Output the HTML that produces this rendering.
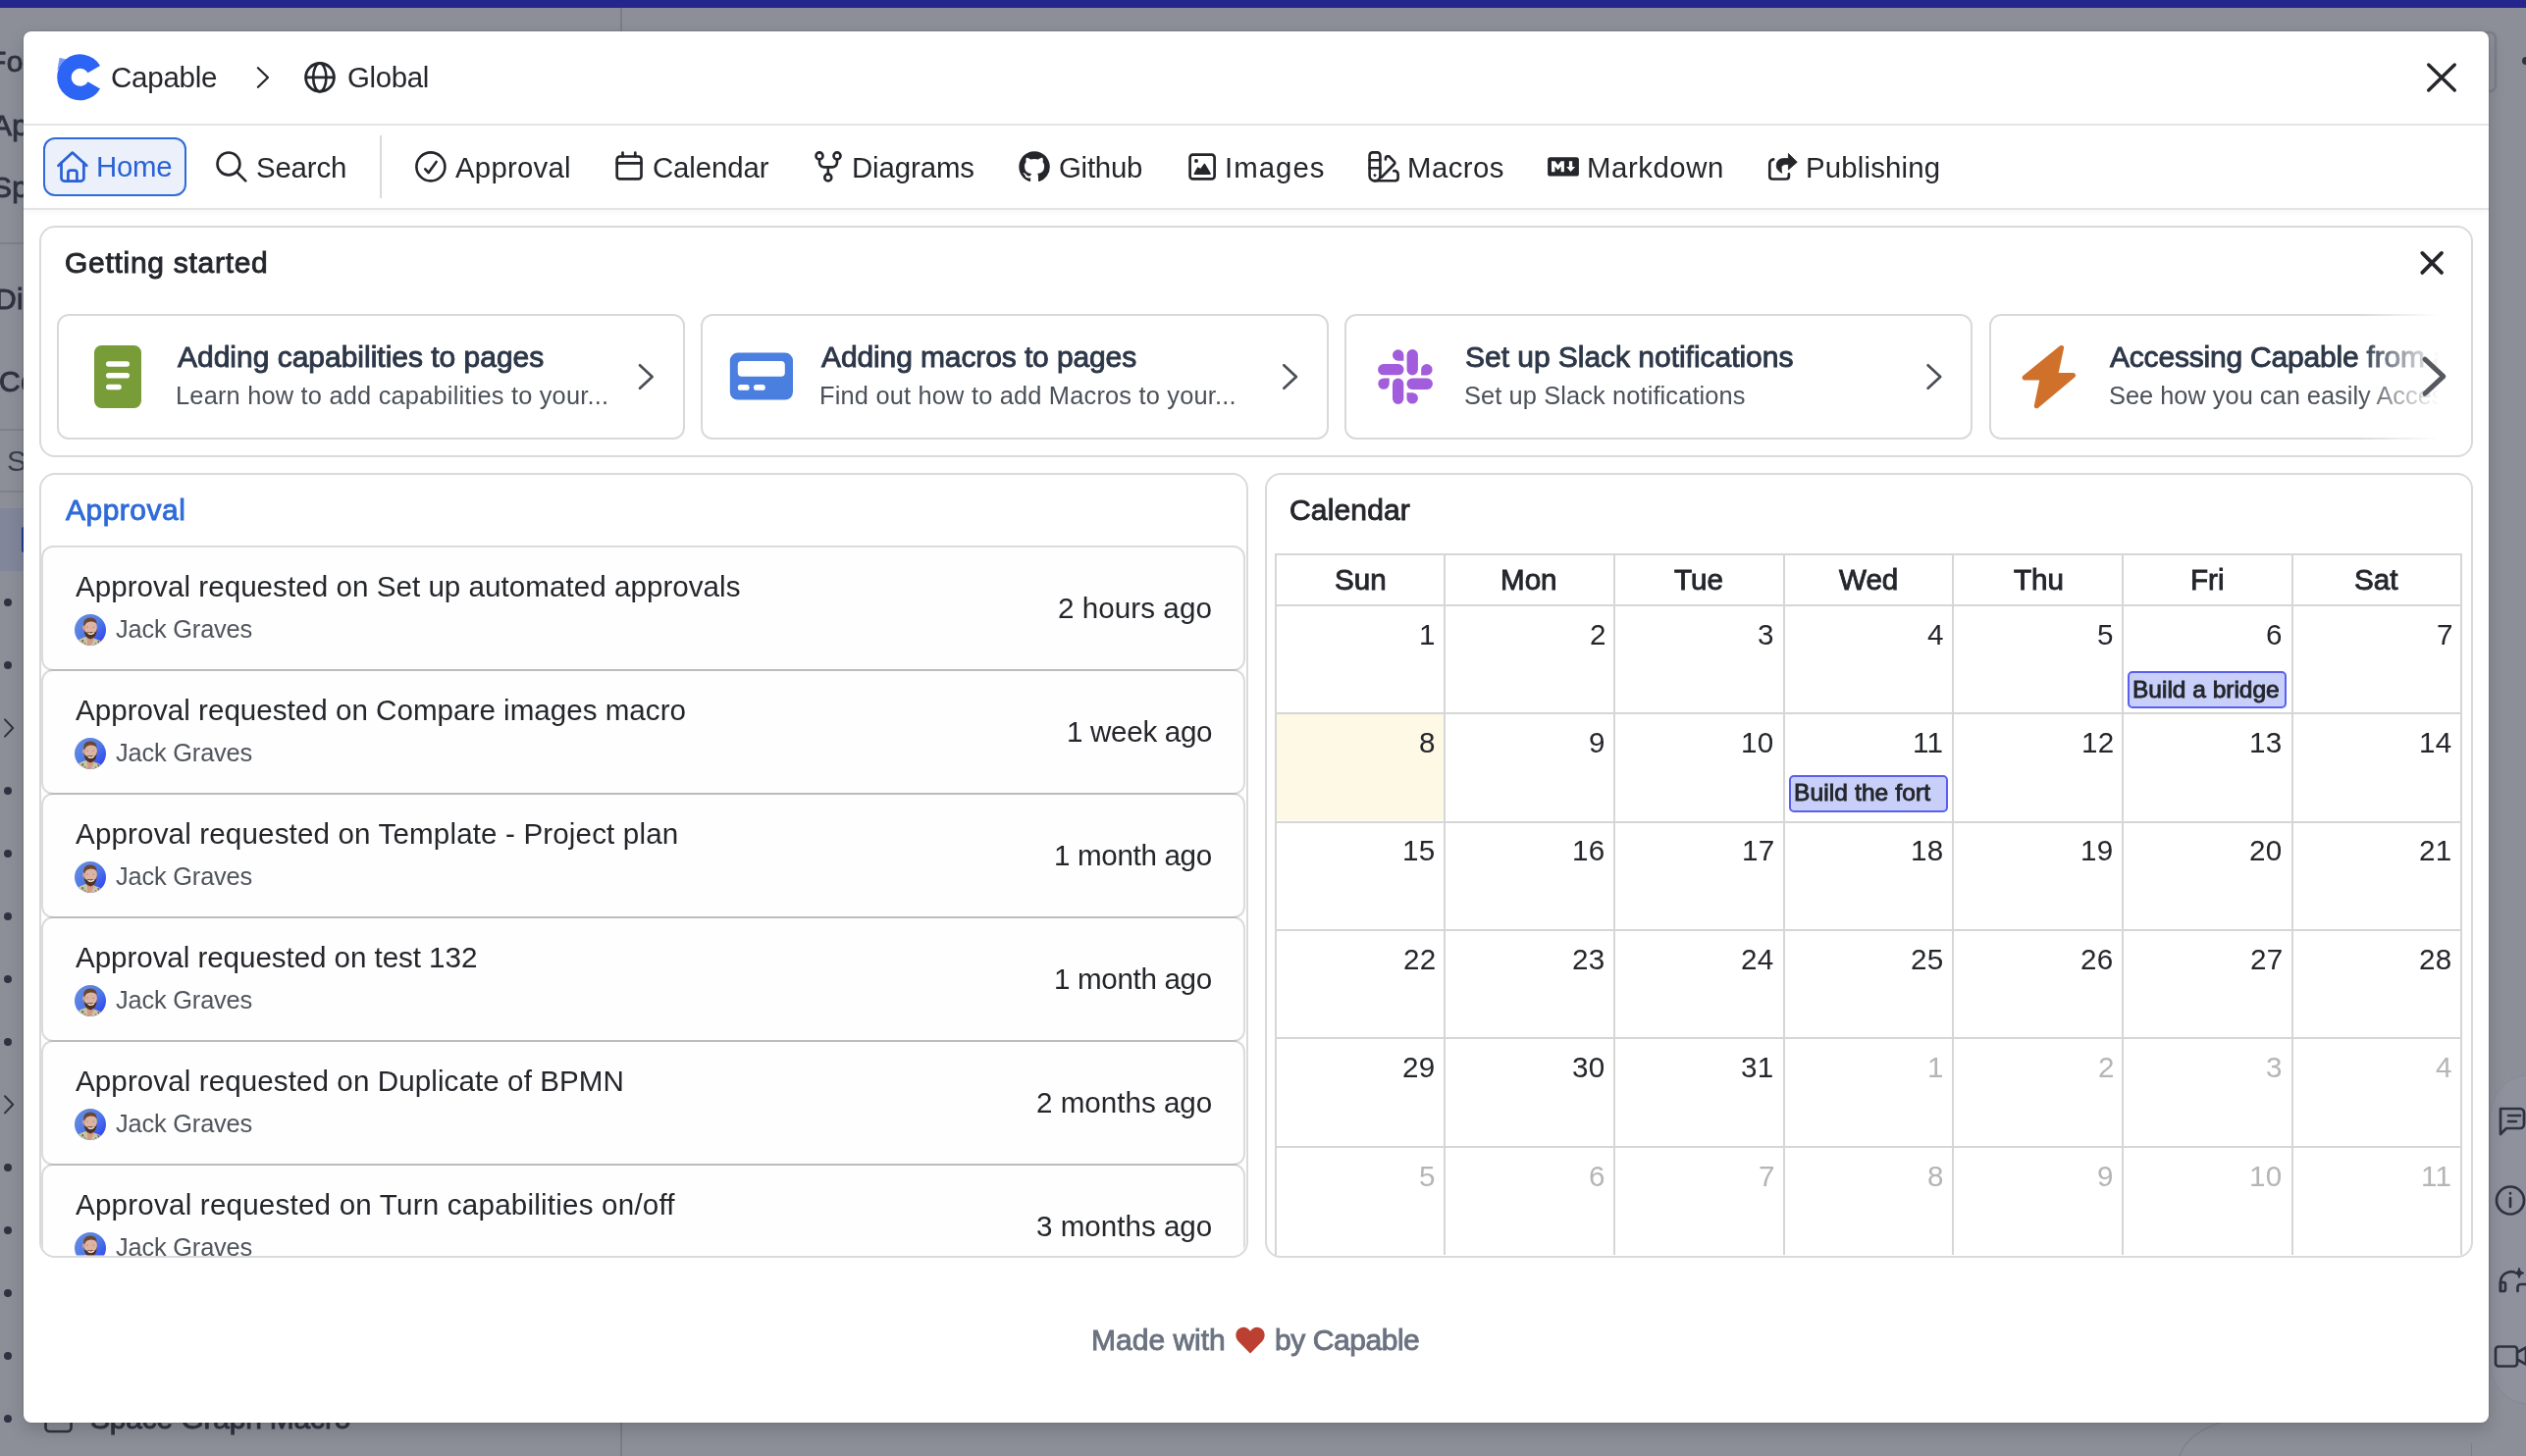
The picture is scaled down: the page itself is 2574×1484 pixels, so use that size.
<!DOCTYPE html>
<html><head><meta charset="utf-8"><title>Capable</title>
<style>
*{box-sizing:border-box;margin:0;padding:0}
html,body{width:2574px;height:1484px;overflow:hidden}
body{position:relative;background:#8c8f98;font-family:"Liberation Sans",sans-serif}
.t{position:absolute;white-space:nowrap;will-change:transform}
.a{position:absolute}
.full{position:absolute;left:0;top:0;width:2574px;height:1484px}
.bul{position:absolute;left:3.9px;width:8px;height:8px;border-radius:50%;background:#2f3341}
.card{position:absolute;border:2px solid #dadada;background:#fff}
.gcard{position:absolute;top:320px;width:640px;height:128px;border:2px solid #d9d9d9;border-radius:12px;background:#fff}
.item{position:absolute;left:42px;width:1227px;height:128px;border:2px solid rgba(0,0,0,.14);border-radius:12px;background:#fefefe;background-clip:padding-box}
.vl{position:absolute;width:2px;background:#d6d6d6}
.hl{position:absolute;height:2px;background:#d6d6d6}
.ev{position:absolute;height:37px;border:2px solid #5a5ff0;border-radius:5px;background:#c8d0fa}
</style></head><body>
<!-- ===== background page (dimmed) ===== -->
<div class="a" style="left:0;top:0;width:2574px;height:8px;background:#24268e"></div>
<div class="a" style="left:632px;top:8px;width:2px;height:1476px;background:#7a7d87"></div>
<div class="a" style="left:0;top:247px;width:40px;height:2px;background:#7e818b"></div>
<div class="a" style="left:0;top:437px;width:40px;height:2px;background:#7e818b"></div>
<div class="a" style="left:0;top:500px;width:40px;height:2px;background:#7e818b"></div>
<div class="a" style="left:0;top:518px;width:40px;height:64px;background:#81869a"></div>
<div class="a" style="left:22px;top:537px;width:4px;height:25.5px;border-radius:2px;background:#1f3c98"></div>
<div class="bul" style="top:609.8px"></div><div class="bul" style="top:673.8px"></div><div class="bul" style="top:801.8px"></div><div class="bul" style="top:865.8px"></div><div class="bul" style="top:929.8px"></div><div class="bul" style="top:993.8px"></div><div class="bul" style="top:1057.8px"></div><div class="bul" style="top:1185.8px"></div><div class="bul" style="top:1249.8px"></div><div class="bul" style="top:1313.8px"></div><div class="bul" style="top:1377.8px"></div><div class="bul" style="top:1441.8px"></div>
<svg class="full" viewBox="0 0 2574 1484" style="z-index:0">
 <path d="M2574 1096 a40 40 0 0 0 -36 40 v255 a40 40 0 0 0 36 40" fill="#8f929c" stroke="#868993" stroke-width="1"/>
 <g fill="none" stroke="#2f3341" stroke-width="2.7" stroke-linecap="round" stroke-linejoin="round">
  <polyline points="5,733.4 13.2,742 5,750.6" stroke-width="2"/>
  <polyline points="5,1117.2 13.2,1125.8 5,1134.4" stroke-width="2"/>
  <rect x="46.5" y="1437.5" width="26" height="21.5" rx="4"/>
  <rect x="2530" y="33" width="13" height="60" rx="6" stroke="#7c7f89"/>
  <!-- right panel icons -->
  <path d="M2548 1130 h20 a4 4 0 0 1 4 4 v12 a4 4 0 0 1 -4 4 h-14 l-6 6 z"/>
  <path d="M2556 1137 h12 M2556 1143 h8"/>
  <circle cx="2558" cy="1223.5" r="14"/>
  <path d="M2558 1221 v9 M2558 1216 v.5"/>
  <path d="M2548 1316 v-9 a11 11 0 0 1 14 -10.5"/><path d="M2548 1307 h3 a2 2 0 0 1 2 2 v5 a2 2 0 0 1 -2 2 h-3 z"/><path d="M2565.5 1316 v-4 a3 3 0 0 1 3 -3 h5.5"/><path d="M2567 1292.5 l1.5 3.5 l3.5 1.5 l-3.5 1.5 l-1.5 3.5 l-1.5 -3.5 l-3.5 -1.5 l3.5 -1.5 z" fill="#2f3341" stroke-width="1"/>
  <path d="M2546 1372.5 h16 a3 3 0 0 1 3 3 v14 a3 3 0 0 1 -3 3 h-16 a3 3 0 0 1 -3 -3 v-14 a3 3 0 0 1 3 -3 z M2565 1378.5 l9 -5 v17 l-9 -5"/>
 </g>
 <circle cx="2574" cy="62" r="4" fill="#2f3341"/>
 <path d="M2262 1450 Q2228 1462 2221 1484" fill="none" stroke="#7d808a" stroke-width="1.2"/>
 <line x1="2518.5" y1="1471" x2="2518.5" y2="1484" stroke="#7d808a" stroke-width="1.2"/>
</svg>
<div class="t" style="left:-11.55px;top:48.20px;font-size:30px;line-height:30px;color:#2f3341;letter-spacing:0.300px;-webkit-text-stroke:0.9px #2f3341;">Forms</div>
<div class="t" style="left:-8.05px;top:112.60px;font-size:30px;line-height:30px;color:#2f3341;letter-spacing:0.300px;-webkit-text-stroke:0.9px #2f3341;">Approvals</div>
<div class="t" style="left:-8.35px;top:176.20px;font-size:30px;line-height:30px;color:#2f3341;letter-spacing:0.300px;-webkit-text-stroke:0.9px #2f3341;">Space</div>
<div class="t" style="left:-5.05px;top:290.40px;font-size:30px;line-height:30px;color:#2f3341;letter-spacing:0.300px;-webkit-text-stroke:0.9px #2f3341;">Diagrams</div>
<div class="t" style="left:-1.05px;top:374.30px;font-size:30px;line-height:30px;color:#2f3341;letter-spacing:0.300px;-webkit-text-stroke:0.9px #2f3341;">Content</div>
<div class="t" style="left:6.50px;top:454.60px;font-size:30px;line-height:30px;color:#3a3e4b;letter-spacing:0.300px;">Search</div>
<div class="t" style="left:92.25px;top:1431.10px;font-size:30px;line-height:30px;color:#2f3341;letter-spacing:-0.192px;-webkit-text-stroke:0.9px #2f3341;">Space Graph Macro</div>

<!-- ===== modal ===== -->
<div class="a" style="left:24px;top:32px;width:2512px;height:1418px;background:#fff;border-radius:8px;box-shadow:0 0 3px rgba(0,0,0,.18),0 8px 18px rgba(0,0,0,.16);z-index:1"></div>
<div class="full" style="z-index:2">
 <!-- dividers -->
 <div class="a" style="left:24px;top:126px;width:2512px;height:2px;background:#e3e4e8"></div>
 <div class="a" style="left:24px;top:212px;width:2512px;height:2px;background:#e3e4e8;box-shadow:0 2px 5px rgba(0,0,0,.07)"></div>
 <div class="a" style="left:387px;top:138px;width:2px;height:64px;background:#d9dadd"></div>
 <!-- home button -->
 <div class="a" style="left:44px;top:140px;width:146px;height:60px;border:2px solid #2f6bd8;border-radius:12px;background:#ebf0fb"></div>

 <!-- Getting started card -->
 <div class="card" style="left:40px;top:229.5px;width:2480px;height:236px;border-radius:16px"></div>
 <div class="gcard" style="left:57.6px"></div>
 <div class="gcard" style="left:713.9px"></div>
 <div class="gcard" style="left:1370.2px"></div>

 <!-- Approval card -->
 <div class="card" style="left:40px;top:481.5px;width:1231.5px;height:800px;border-radius:16px;overflow:hidden">
 </div>
 <div class="a" style="left:0;top:0;width:2574px;height:1484px;clip-path:inset(483.5px 1304.5px 204.5px 42px round 14px)">
  <div class="item" style="top:556px"></div>
  <div class="item" style="top:682px"></div>
  <div class="item" style="top:808px"></div>
  <div class="item" style="top:934px"></div>
  <div class="item" style="top:1060px"></div>
  <div class="item" style="top:1186px"></div>
  <div class="t" style="left:77.10px;top:582.94px;font-size:29.6px;line-height:29.6px;color:#24262b;letter-spacing:0.028px;">Approval requested on Set up automated approvals</div>
<div class="t" style="left:117.50px;top:629.49px;font-size:25.4px;line-height:25.4px;color:#50545c;letter-spacing:-0.190px;">Jack Graves</div>
<div class="t" style="left:1078.40px;top:604.94px;font-size:29.6px;line-height:29.6px;color:#24262b;letter-spacing:0.055px;">2 hours ago</div>
<div class="t" style="left:77.10px;top:708.94px;font-size:29.6px;line-height:29.6px;color:#24262b;letter-spacing:0.004px;">Approval requested on Compare images macro</div>
<div class="t" style="left:117.50px;top:755.49px;font-size:25.4px;line-height:25.4px;color:#50545c;letter-spacing:-0.190px;">Jack Graves</div>
<div class="t" style="left:1086.70px;top:730.94px;font-size:29.6px;line-height:29.6px;color:#24262b;letter-spacing:-0.312px;">1 week ago</div>
<div class="t" style="left:77.10px;top:834.94px;font-size:29.6px;line-height:29.6px;color:#24262b;letter-spacing:0.138px;">Approval requested on Template - Project plan</div>
<div class="t" style="left:117.50px;top:881.49px;font-size:25.4px;line-height:25.4px;color:#50545c;letter-spacing:-0.190px;">Jack Graves</div>
<div class="t" style="left:1074.10px;top:856.94px;font-size:29.6px;line-height:29.6px;color:#24262b;letter-spacing:-0.337px;">1 month ago</div>
<div class="t" style="left:77.10px;top:960.94px;font-size:29.6px;line-height:29.6px;color:#24262b;letter-spacing:-0.067px;">Approval requested on test 132</div>
<div class="t" style="left:117.50px;top:1007.49px;font-size:25.4px;line-height:25.4px;color:#50545c;letter-spacing:-0.190px;">Jack Graves</div>
<div class="t" style="left:1074.10px;top:982.94px;font-size:29.6px;line-height:29.6px;color:#24262b;letter-spacing:-0.337px;">1 month ago</div>
<div class="t" style="left:77.10px;top:1086.94px;font-size:29.6px;line-height:29.6px;color:#24262b;letter-spacing:0.078px;">Approval requested on Duplicate of BPMN</div>
<div class="t" style="left:117.50px;top:1133.49px;font-size:25.4px;line-height:25.4px;color:#50545c;letter-spacing:-0.190px;">Jack Graves</div>
<div class="t" style="left:1056.00px;top:1108.94px;font-size:29.6px;line-height:29.6px;color:#24262b;letter-spacing:-0.006px;">2 months ago</div>
<div class="t" style="left:77.10px;top:1212.94px;font-size:29.6px;line-height:29.6px;color:#24262b;letter-spacing:0.200px;">Approval requested on Turn capabilities on/off</div>
<div class="t" style="left:117.50px;top:1259.49px;font-size:25.4px;line-height:25.4px;color:#50545c;letter-spacing:-0.190px;">Jack Graves</div>
<div class="t" style="left:1056.00px;top:1234.94px;font-size:29.6px;line-height:29.6px;color:#24262b;letter-spacing:-0.006px;">3 months ago</div>
  <svg class="full" viewBox="0 0 2574 1484">
<defs><linearGradient id="avg" x1="0" y1="0" x2="1" y2="1"><stop offset="0" stop-color="#6b8fdc"/><stop offset="0.5" stop-color="#4f7be8"/><stop offset="1" stop-color="#2a36f2"/></linearGradient>
<clipPath id="avc"><circle cx="16" cy="16" r="16"/></clipPath>
<symbol id="av" viewBox="0 0 32 32"><g clip-path="url(#avc)">
<rect width="32" height="32" fill="url(#avg)"/>
<path d="M0 30 L2 27.8 Q6 24.6 10.5 23.2 L13 23 L13.5 32 L0 32 Z" fill="#c9c5a4"/>
<path d="M18.6 24.6 Q25 25.6 30.5 30.5 L32 32 L15.5 32 Z" fill="#c9c5a4"/>
<path d="M3 29 l2.5 -1.5 l1 2.5 z M7 26.5 l2 -0.5 l0.5 2.5 l-2 0 z M4.5 31 l2 -1 l1 2 z M23 27 l2.5 0.5 l-1 2.5 z M27 29.5 l2 0 l0 2 z M20.5 29.5 l1.5 0 l0 2 z M10 29 l1.5 0.5 l-0.5 2 z" fill="#6e6a4c"/>
<path d="M12.5 22 L20 22 L19.8 25.2 L16.6 32 L13.2 32 Z" fill="#d49a88"/>
<ellipse cx="16" cy="13.6" rx="6.9" ry="9" fill="#dfb3a2"/>
<ellipse cx="9.3" cy="13.8" rx="1.3" ry="2.2" fill="#d39e8c"/>
<path d="M9.2 11 Q8.8 3.6 16 3.5 Q22.9 3.6 22.8 10.5 Q21 7.4 16.2 7.6 Q11.5 7.8 10.2 12.5 Z" fill="#6a4632"/>
<path d="M9.4 14 Q9.8 24.6 16.2 25.6 Q22.5 24.6 22.9 14 Q22 18.6 19.8 19 Q17.5 17.6 16 18.6 Q14.2 17.6 12.4 18.8 Q10.3 18.4 9.4 14 Z" fill="#4d3223"/>
<path d="M13.6 19.6 Q16.5 21.6 19.8 19.4 Q17 20.6 13.6 19.6 Z" fill="#f2ece6" stroke="#f2ece6" stroke-width="1"/>
<circle cx="13.2" cy="13.3" r="0.8" fill="#8a9aa8"/><circle cx="19.3" cy="13.3" r="0.8" fill="#8a9aa8"/>
</g></symbol></defs>
<use href="#av" x="76.0" y="626.0" width="32" height="32"/>
<use href="#av" x="76.0" y="752.0" width="32" height="32"/>
<use href="#av" x="76.0" y="878.0" width="32" height="32"/>
<use href="#av" x="76.0" y="1004.0" width="32" height="32"/>
<use href="#av" x="76.0" y="1130.0" width="32" height="32"/>
<use href="#av" x="76.0" y="1256.0" width="32" height="32"/>
</svg>
 </div>

 <!-- Calendar card -->
 <div class="card" style="left:1288.5px;top:481.5px;width:1231.5px;height:800px;border-radius:16px;overflow:hidden"></div>
 <div class="a" style="left:1300.5px;top:728.1px;width:170.7px;height:108.4px;background:#fef9e4"></div>
<div class="vl" style="left:1298.5px;top:564.0px;height:715.3px"></div>
<div class="vl" style="left:1471.2px;top:564.0px;height:715.3px"></div>
<div class="vl" style="left:1643.8px;top:564.0px;height:715.3px"></div>
<div class="vl" style="left:1816.5px;top:564.0px;height:715.3px"></div>
<div class="vl" style="left:1989.2px;top:564.0px;height:715.3px"></div>
<div class="vl" style="left:2161.8px;top:564.0px;height:715.3px"></div>
<div class="vl" style="left:2334.5px;top:564.0px;height:715.3px"></div>
<div class="vl" style="left:2507.2px;top:564.0px;height:715.3px"></div>
<div class="hl" style="left:1298.5px;top:564.0px;width:1210.7px"></div>
<div class="hl" style="left:1298.5px;top:615.6px;width:1210.7px"></div>
<div class="hl" style="left:1298.5px;top:726.1px;width:1210.7px"></div>
<div class="hl" style="left:1298.5px;top:836.5px;width:1210.7px"></div>
<div class="hl" style="left:1298.5px;top:947.0px;width:1210.7px"></div>
<div class="hl" style="left:1298.5px;top:1057.4px;width:1210.7px"></div>
<div class="hl" style="left:1298.5px;top:1167.8px;width:1210.7px"></div>
 <div class="ev" style="left:2167.8px;top:684.2px;width:161.8px;height:38px"></div>
 <div class="ev" style="left:1823px;top:789.5px;width:161.8px;height:38px"></div>

 <div class="t" style="left:112.60px;top:64.04px;font-size:29.6px;line-height:29.6px;color:#24262b;letter-spacing:-0.297px;">Capable</div>
<div class="t" style="left:354.30px;top:63.91px;font-size:29.4px;line-height:29.4px;color:#24262b;letter-spacing:-0.346px;">Global</div>
<div class="t" style="left:97.70px;top:155.31px;font-size:29.4px;line-height:29.4px;color:#2a62d4;letter-spacing:-0.251px;">Home</div>
<div class="t" style="left:260.60px;top:155.61px;font-size:29.4px;line-height:29.4px;color:#24262b;letter-spacing:-0.175px;">Search</div>
<div class="t" style="left:464.00px;top:155.61px;font-size:29.4px;line-height:29.4px;color:#24262b;letter-spacing:0.219px;">Approval</div>
<div class="t" style="left:665.00px;top:155.61px;font-size:29.4px;line-height:29.4px;color:#24262b;letter-spacing:-0.112px;">Calendar</div>
<div class="t" style="left:867.70px;top:155.61px;font-size:29.4px;line-height:29.4px;color:#24262b;letter-spacing:-0.109px;">Diagrams</div>
<div class="t" style="left:1079.00px;top:155.61px;font-size:29.4px;line-height:29.4px;color:#24262b;letter-spacing:-0.250px;">Github</div>
<div class="t" style="left:1247.70px;top:155.61px;font-size:29.4px;line-height:29.4px;color:#24262b;letter-spacing:1.023px;">Images</div>
<div class="t" style="left:1433.70px;top:155.61px;font-size:29.4px;line-height:29.4px;color:#24262b;letter-spacing:0.429px;">Macros</div>
<div class="t" style="left:1617.00px;top:155.61px;font-size:29.4px;line-height:29.4px;color:#24262b;letter-spacing:0.539px;">Markdown</div>
<div class="t" style="left:1839.60px;top:155.61px;font-size:29.4px;line-height:29.4px;color:#24262b;letter-spacing:0.170px;">Publishing</div>
<div class="t" style="left:66.35px;top:252.60px;font-size:30px;line-height:30px;color:#24262b;letter-spacing:0.715px;-webkit-text-stroke:0.9px #24262b;">Getting started</div>
<div class="t" style="left:181.05px;top:348.90px;font-size:30px;line-height:30px;color:#2d3748;letter-spacing:-0.011px;-webkit-text-stroke:0.9px #2d3748;">Adding capabilities to pages</div>
<div class="t" style="left:178.60px;top:391.09px;font-size:25.4px;line-height:25.4px;color:#4b5059;letter-spacing:0.198px;">Learn how to add capabilities to your...</div>
<div class="t" style="left:837.35px;top:348.90px;font-size:30px;line-height:30px;color:#2d3748;letter-spacing:-0.111px;-webkit-text-stroke:0.9px #2d3748;">Adding macros to pages</div>
<div class="t" style="left:834.90px;top:391.09px;font-size:25.4px;line-height:25.4px;color:#4b5059;letter-spacing:0.189px;">Find out how to add Macros to your...</div>
<div class="t" style="left:1492.65px;top:348.90px;font-size:30px;line-height:30px;color:#2d3748;letter-spacing:-0.031px;-webkit-text-stroke:0.9px #2d3748;">Set up Slack notifications</div>
<div class="t" style="left:1492.20px;top:391.09px;font-size:25.4px;line-height:25.4px;color:#4b5059;letter-spacing:0.112px;">Set up Slack notifications</div>
<div class="t" style="left:67.35px;top:505.00px;font-size:30px;line-height:30px;color:#2f6bd8;letter-spacing:0.495px;-webkit-text-stroke:0.9px #2f6bd8;">Approval</div>
<div class="t" style="left:1314.45px;top:505.40px;font-size:30px;line-height:30px;color:#24262b;letter-spacing:0.150px;-webkit-text-stroke:0.9px #24262b;">Calendar</div>
<div class="t" style="left:1359.74px;top:576.44px;font-size:29.6px;line-height:29.6px;color:#24262b;letter-spacing:0.000px;-webkit-text-stroke:0.9px #24262b;">Sun</div>
<div class="t" style="left:1529.45px;top:576.44px;font-size:29.6px;line-height:29.6px;color:#24262b;letter-spacing:0.000px;-webkit-text-stroke:0.9px #24262b;">Mon</div>
<div class="t" style="left:1706.46px;top:576.44px;font-size:29.6px;line-height:29.6px;color:#24262b;letter-spacing:0.000px;-webkit-text-stroke:0.9px #24262b;">Tue</div>
<div class="t" style="left:1874.42px;top:576.44px;font-size:29.6px;line-height:29.6px;color:#24262b;letter-spacing:0.000px;-webkit-text-stroke:0.9px #24262b;">Wed</div>
<div class="t" style="left:2051.75px;top:576.44px;font-size:29.6px;line-height:29.6px;color:#24262b;letter-spacing:0.000px;-webkit-text-stroke:0.9px #24262b;">Thu</div>
<div class="t" style="left:2231.72px;top:576.44px;font-size:29.6px;line-height:29.6px;color:#24262b;letter-spacing:0.000px;-webkit-text-stroke:0.9px #24262b;">Fri</div>
<div class="t" style="left:2399.26px;top:576.44px;font-size:29.6px;line-height:29.6px;color:#24262b;letter-spacing:0.000px;-webkit-text-stroke:0.9px #24262b;">Sat</div>
<div class="t" style="left:1445.87px;top:631.54px;font-size:29.6px;line-height:29.6px;color:#24262b;letter-spacing:0.300px;">1</div>
<div class="t" style="left:1619.54px;top:631.54px;font-size:29.6px;line-height:29.6px;color:#24262b;letter-spacing:0.300px;">2</div>
<div class="t" style="left:1791.21px;top:631.54px;font-size:29.6px;line-height:29.6px;color:#24262b;letter-spacing:0.300px;">3</div>
<div class="t" style="left:1963.88px;top:631.54px;font-size:29.6px;line-height:29.6px;color:#24262b;letter-spacing:0.300px;">4</div>
<div class="t" style="left:2136.55px;top:631.54px;font-size:29.6px;line-height:29.6px;color:#24262b;letter-spacing:0.300px;">5</div>
<div class="t" style="left:2309.22px;top:631.54px;font-size:29.6px;line-height:29.6px;color:#24262b;letter-spacing:0.300px;">6</div>
<div class="t" style="left:2482.89px;top:631.54px;font-size:29.6px;line-height:29.6px;color:#24262b;letter-spacing:0.300px;">7</div>
<div class="t" style="left:1445.87px;top:741.99px;font-size:29.6px;line-height:29.6px;color:#24262b;letter-spacing:0.300px;">8</div>
<div class="t" style="left:1618.54px;top:741.99px;font-size:29.6px;line-height:29.6px;color:#24262b;letter-spacing:0.300px;">9</div>
<div class="t" style="left:1774.45px;top:741.99px;font-size:29.6px;line-height:29.6px;color:#24262b;letter-spacing:0.300px;">10</div>
<div class="t" style="left:1949.32px;top:741.99px;font-size:29.6px;line-height:29.6px;color:#24262b;letter-spacing:0.300px;">11</div>
<div class="t" style="left:2120.79px;top:741.99px;font-size:29.6px;line-height:29.6px;color:#24262b;letter-spacing:0.300px;">12</div>
<div class="t" style="left:2292.46px;top:741.99px;font-size:29.6px;line-height:29.6px;color:#24262b;letter-spacing:0.300px;">13</div>
<div class="t" style="left:2465.13px;top:741.99px;font-size:29.6px;line-height:29.6px;color:#24262b;letter-spacing:0.300px;">14</div>
<div class="t" style="left:1429.11px;top:852.44px;font-size:29.6px;line-height:29.6px;color:#24262b;letter-spacing:0.300px;">15</div>
<div class="t" style="left:1601.78px;top:852.44px;font-size:29.6px;line-height:29.6px;color:#24262b;letter-spacing:0.300px;">16</div>
<div class="t" style="left:1775.45px;top:852.44px;font-size:29.6px;line-height:29.6px;color:#24262b;letter-spacing:0.300px;">17</div>
<div class="t" style="left:1947.12px;top:852.44px;font-size:29.6px;line-height:29.6px;color:#24262b;letter-spacing:0.300px;">18</div>
<div class="t" style="left:2119.79px;top:852.44px;font-size:29.6px;line-height:29.6px;color:#24262b;letter-spacing:0.300px;">19</div>
<div class="t" style="left:2292.46px;top:852.44px;font-size:29.6px;line-height:29.6px;color:#24262b;letter-spacing:0.300px;">20</div>
<div class="t" style="left:2465.13px;top:852.44px;font-size:29.6px;line-height:29.6px;color:#24262b;letter-spacing:0.300px;">21</div>
<div class="t" style="left:1430.11px;top:962.89px;font-size:29.6px;line-height:29.6px;color:#24262b;letter-spacing:0.300px;">22</div>
<div class="t" style="left:1601.78px;top:962.89px;font-size:29.6px;line-height:29.6px;color:#24262b;letter-spacing:0.300px;">23</div>
<div class="t" style="left:1774.45px;top:962.89px;font-size:29.6px;line-height:29.6px;color:#24262b;letter-spacing:0.300px;">24</div>
<div class="t" style="left:1947.12px;top:962.89px;font-size:29.6px;line-height:29.6px;color:#24262b;letter-spacing:0.300px;">25</div>
<div class="t" style="left:2119.79px;top:962.89px;font-size:29.6px;line-height:29.6px;color:#24262b;letter-spacing:0.300px;">26</div>
<div class="t" style="left:2293.46px;top:962.89px;font-size:29.6px;line-height:29.6px;color:#24262b;letter-spacing:0.300px;">27</div>
<div class="t" style="left:2465.13px;top:962.89px;font-size:29.6px;line-height:29.6px;color:#24262b;letter-spacing:0.300px;">28</div>
<div class="t" style="left:1429.11px;top:1073.34px;font-size:29.6px;line-height:29.6px;color:#24262b;letter-spacing:0.300px;">29</div>
<div class="t" style="left:1601.78px;top:1073.34px;font-size:29.6px;line-height:29.6px;color:#24262b;letter-spacing:0.300px;">30</div>
<div class="t" style="left:1774.45px;top:1073.34px;font-size:29.6px;line-height:29.6px;color:#24262b;letter-spacing:0.300px;">31</div>
<div class="t" style="left:1963.88px;top:1073.34px;font-size:29.6px;line-height:29.6px;color:#b5b5b5;letter-spacing:0.300px;">1</div>
<div class="t" style="left:2137.55px;top:1073.34px;font-size:29.6px;line-height:29.6px;color:#b5b5b5;letter-spacing:0.300px;">2</div>
<div class="t" style="left:2309.22px;top:1073.34px;font-size:29.6px;line-height:29.6px;color:#b5b5b5;letter-spacing:0.300px;">3</div>
<div class="t" style="left:2481.89px;top:1073.34px;font-size:29.6px;line-height:29.6px;color:#b5b5b5;letter-spacing:0.300px;">4</div>
<div class="t" style="left:1445.87px;top:1183.79px;font-size:29.6px;line-height:29.6px;color:#b5b5b5;letter-spacing:0.300px;">5</div>
<div class="t" style="left:1618.54px;top:1183.79px;font-size:29.6px;line-height:29.6px;color:#b5b5b5;letter-spacing:0.300px;">6</div>
<div class="t" style="left:1792.21px;top:1183.79px;font-size:29.6px;line-height:29.6px;color:#b5b5b5;letter-spacing:0.300px;">7</div>
<div class="t" style="left:1963.88px;top:1183.79px;font-size:29.6px;line-height:29.6px;color:#b5b5b5;letter-spacing:0.300px;">8</div>
<div class="t" style="left:2136.55px;top:1183.79px;font-size:29.6px;line-height:29.6px;color:#b5b5b5;letter-spacing:0.300px;">9</div>
<div class="t" style="left:2292.46px;top:1183.79px;font-size:29.6px;line-height:29.6px;color:#b5b5b5;letter-spacing:0.300px;">10</div>
<div class="t" style="left:2467.33px;top:1183.79px;font-size:29.6px;line-height:29.6px;color:#b5b5b5;letter-spacing:0.300px;">11</div>
<div class="t" style="left:2173.45px;top:691.26px;font-size:24.5px;line-height:24.5px;color:#24262b;letter-spacing:-0.008px;-webkit-text-stroke:0.9px #24262b;">Build a bridge</div>
<div class="t" style="left:1828.35px;top:796.46px;font-size:24.5px;line-height:24.5px;color:#24262b;letter-spacing:0.112px;-webkit-text-stroke:0.9px #24262b;">Build the fort</div>
<div class="t" style="left:1112.45px;top:1350.90px;font-size:30px;line-height:30px;color:#6b7280;letter-spacing:0.007px;-webkit-text-stroke:0.9px #6b7280;">Made with</div>
<div class="t" style="left:1299.35px;top:1350.90px;font-size:30px;line-height:30px;color:#6b7280;letter-spacing:-0.443px;-webkit-text-stroke:0.9px #6b7280;">by Capable</div>
 <svg class="full" viewBox="0 0 2574 1484">
<path d="M60.6 58.8 L58.3 72 L67.5 60.6 Z" fill="#7a9bf3"/>
<path d="M102.05 67.05 A23.5 23.5 0 1 0 102.05 90.55 L89.49 83.3 A9 9 0 1 1 89.49 74.3 Z" fill="#2c64f5"/>
<g fill="none" stroke="#24262b" stroke-linecap="round" stroke-linejoin="round">
<polyline points="262.9,69.2 273,79 262.9,88.8" stroke-width="2.2"/>
<circle cx="326" cy="78.9" r="14.4" stroke-width="2.8"/>
<line x1="312" y1="78.9" x2="340" y2="78.9" stroke-width="2.6"/>
<ellipse cx="325.8" cy="78.9" rx="6.6" ry="14.4" stroke-width="2.6"/>
<path d="M2474.7 66 L2501.3 92 M2501.3 66 L2474.7 92" stroke-width="3.4"/>
<path d="M2468.3 257.9 L2488 277.9 M2488 257.9 L2468.3 277.9" stroke-width="3.8"/>
<circle cx="232.95" cy="166.9" r="11.45" stroke-width="2.6"/>
<line x1="241.4" y1="175.4" x2="250.3" y2="184.3" stroke-width="2.6"/>
<circle cx="438.9" cy="169.9" r="14.5" stroke-width="2.6"/>
<polyline points="433.3,172.3 436.7,176 444.6,164.9" stroke-width="2.6"/>
<rect x="628.7" y="159.5" width="24.8" height="22.9" rx="3" stroke-width="2.7"/>
<path d="M628.7 166.4 H653.5 M634.5 155.6 V159.5 M647.3 155.6 V159.5" stroke-width="2.7"/>
<circle cx="835" cy="158.9" r="3.5" stroke-width="2.6"/><circle cx="853" cy="158.9" r="3.5" stroke-width="2.6"/><circle cx="843.8" cy="180.9" r="3.5" stroke-width="2.6"/>
<path d="M835 162.4 V165.6 A4.8 4.8 0 0 0 839.8 170.4 H848.2 A4.8 4.8 0 0 0 853 165.6 V162.4 M843.8 170.4 V177.4" stroke-width="2.6"/>
<rect x="1212.6" y="157.6" width="25" height="24.8" rx="3" stroke-width="2.7"/>
<path d="M1395.6 158.4 A3 3 0 0 1 1398.6 155.4 H1403.4 A3 3 0 0 1 1406.4 158.4 V179 A5.4 5.4 0 0 1 1395.6 179 Z" stroke-width="2.6"/>
<path d="M1395.6 163.3 H1406.4 M1395.6 171.3 H1406.4" stroke-width="2.6"/>
<path d="M1411.9 162.4 V161.4 Q1412 159.2 1414.3 159.2 H1415.3 L1420.6 164.6 Q1422 166 1420.6 167.5 L1407.6 180.9" stroke-width="2.6"/>
<path d="M1420.2 174.2 L1421.6 174 Q1424.6 174.6 1424.6 178 V181.3 Q1424.6 184.3 1421.6 184.3 H1401" stroke-width="2.6"/>
<path d="M1807.2 162.4 Q1803.3 163.2 1803.3 167 V179.5 Q1803.3 182.5 1806.3 182.5 H1819.9 Q1822.9 182.5 1822.9 179.5 V177.4" stroke-width="2.7"/>
<polyline points="652.0,372.3 664.6,384 652.0,395.7" stroke="#4a4e56" stroke-width="2.7"/>
<polyline points="1308.3,372.3 1320.9,384 1308.3,395.7" stroke="#4a4e56" stroke-width="2.7"/>
<polyline points="1964.6,372.3 1977.2,384 1964.6,395.7" stroke="#4a4e56" stroke-width="2.7"/>
</g>
<circle cx="1219" cy="164" r="2" fill="#24262b"/>
<path d="M1217.3 177.2 L1220.6 171 L1223.6 172.6 L1227.4 167.3 L1233 176.7 L1233 177.2 Z" fill="#24262b" stroke="#24262b" stroke-width="1.4" stroke-linejoin="round"/>
<path d="M1401 177.3 l1.4 1.4 l-1.4 1.4 l-1.4 -1.4 z" fill="#24262b" stroke="#24262b" stroke-width="0.8"/>
<path transform="translate(1038.3 154.3) scale(1.97)" d="M8 0C3.58 0 0 3.58 0 8c0 3.54 2.29 6.53 5.47 7.59.4.07.55-.17.55-.38 0-.19-.01-.82-.01-1.49-2.01.37-2.53-.49-2.69-.94-.09-.23-.48-.94-.82-1.13-.28-.15-.68-.52-.01-.53.63-.01 1.08.58 1.23.82.72 1.21 1.87.87 2.33.66.07-.52.28-.87.51-1.06-1.78-.2-3.64-.89-3.64-3.95 0-.87.31-1.59.82-2.15-.08-.2-.36-1.02.08-2.12 0 0 .67-.21 2.2.82.64-.18 1.32-.27 2-.27.68 0 1.36.09 2 .27 1.53-1.04 2.2-.82 2.2-.82.44 1.1.16 1.92.08 2.12.51.56.82 1.27.82 2.15 0 3.07-1.87 3.75-3.65 3.95.29.25.54.73.54 1.48 0 1.07-.01 1.93-.01 2.2 0 .21.15.46.55.38A8.013 8.013 0 0016 8c0-4.42-3.58-8-8-8z" fill="#24262b"/>
<rect x="1577.1" y="160.2" width="31.8" height="19.4" rx="2.6" fill="#24262b"/>
<path d="M1581 175.3 V164.3 H1584.7 L1587.6 168.3 L1590.5 164.3 H1593.9 V175.3 H1590.7 V169.6 L1587.6 173.3 L1584.5 169.6 V175.3 Z" fill="#fff"/>
<path d="M1598.9 164.3 H1602.2 V170.1 H1605.1 L1600.6 174.9 L1596.2 170.1 H1598.9 Z" fill="#fff"/>
<path d="M1815.8 176.3 Q1810.1 173.5 1810.2 168.6 Q1810.6 161.7 1817.6 161.5 H1822.4 V156.4 L1831.3 165.2 L1822.4 173 V167.4 H1819.3 Q1815.6 167.6 1815.2 170.6 Q1815 173.6 1815.8 176.3 Z" fill="#24262b" stroke="#24262b" stroke-width="0.8" stroke-linejoin="round"/>
<g fill="none" stroke="#2a62d4" stroke-width="2.75" stroke-linecap="round" stroke-linejoin="round">
<polyline points="59.5,168.7 73.8,155.6 88.3,168.7"/>
<path d="M62.5 165.8 V181.5 A3 3 0 0 0 65.5 184.5 H82.4 A3 3 0 0 0 85.4 181.5 V165.8"/>
<path d="M69.4 184.5 V176 A2.5 2.5 0 0 1 71.9 173.5 H75.9 A2.5 2.5 0 0 1 78.4 176 V184.5"/>
</g>
<rect x="96" y="352" width="48" height="64" rx="7.5" fill="#789d38"/>
<path d="M110.8 371 H129.2 M110.8 382.7 H129.2 M110.8 394.5 H121" stroke="#fff" stroke-width="5.6" stroke-linecap="round"/>
<rect x="743.8" y="359.6" width="64.2" height="48" rx="8" fill="#4a7fe0"/>
<rect x="751.8" y="368" width="48" height="15.7" rx="4" fill="#fff"/>
<rect x="751.8" y="392" width="11.9" height="5.8" rx="2.9" fill="#fff"/><rect x="768" y="392" width="11.8" height="5.8" rx="2.9" fill="#fff"/>
<g fill="#a15ddb">
<rect x="1404.1" y="371" width="26.4" height="11.3" rx="5.65"/>
<rect x="1433.6" y="356" width="11.3" height="26.5" rx="5.65"/>
<rect x="1433.5" y="385.6" width="26.4" height="11.3" rx="5.65"/>
<rect x="1419" y="385.5" width="11.3" height="26.4" rx="5.65"/>
<path d="M1430.4 367.7 H1424.7 A5.7 5.7 0 1 1 1430.4 362 Z"/>
<path d="M1448.2 382.5 V376.8 A5.7 5.7 0 1 1 1453.9 382.5 Z"/>
<path d="M1415.7 385.4 V391.1 A5.7 5.7 0 1 1 1410 385.4 Z"/>
<path d="M1433.5 400.2 H1439.2 A5.7 5.7 0 1 1 1433.5 405.9 Z"/>
</g>
<path transform="translate(1258 1351.8)" d="M16 27.8 L4.2 15.6 C0 11.4 0.4 4.6 5.4 1.9 C9.9 -0.4 14 1.7 16 5 C18 1.7 22.1 -0.4 26.6 1.9 C31.6 4.6 32 11.4 27.8 15.6 Z" fill="#bc4031"/>
</svg>

 <!-- card 4 (faded) -->
 <div class="a" style="left:0;top:0;width:2574px;height:1484px;-webkit-mask-image:linear-gradient(to right,#000 2405px,transparent 2486px);mask-image:linear-gradient(to right,#000 2405px,transparent 2486px)">
  <div class="gcard" style="left:2026.5px"></div>
  <svg class="full" viewBox="0 0 2574 1484">
   <path d="M2100.6 354.5 L2063 385 L2081.3 385 L2075.3 413.8 L2112.6 382.6 L2094.6 382.6 Z" fill="#d0712b" stroke="#d0712b" stroke-width="5" stroke-linejoin="round"/>
  </svg>
  <div class="t" style="left:2149.95px;top:348.90px;font-size:30px;line-height:30px;color:#2d3748;letter-spacing:-0.200px;-webkit-text-stroke:0.9px #2d3748;">Accessing Capable from a Mac</div>
<div class="t" style="left:2148.50px;top:391.09px;font-size:25.4px;line-height:25.4px;color:#4b5059;letter-spacing:0.000px;">See how you can easily Access Capable</div>
 </div>
 <svg class="full" viewBox="0 0 2574 1484">
  <polyline points="2471,366.2 2489.8,383.7 2471,401.2" fill="none" stroke="#55595f" stroke-width="5" stroke-linecap="round" stroke-linejoin="round"/>
 </svg>
</div>
</body></html>
